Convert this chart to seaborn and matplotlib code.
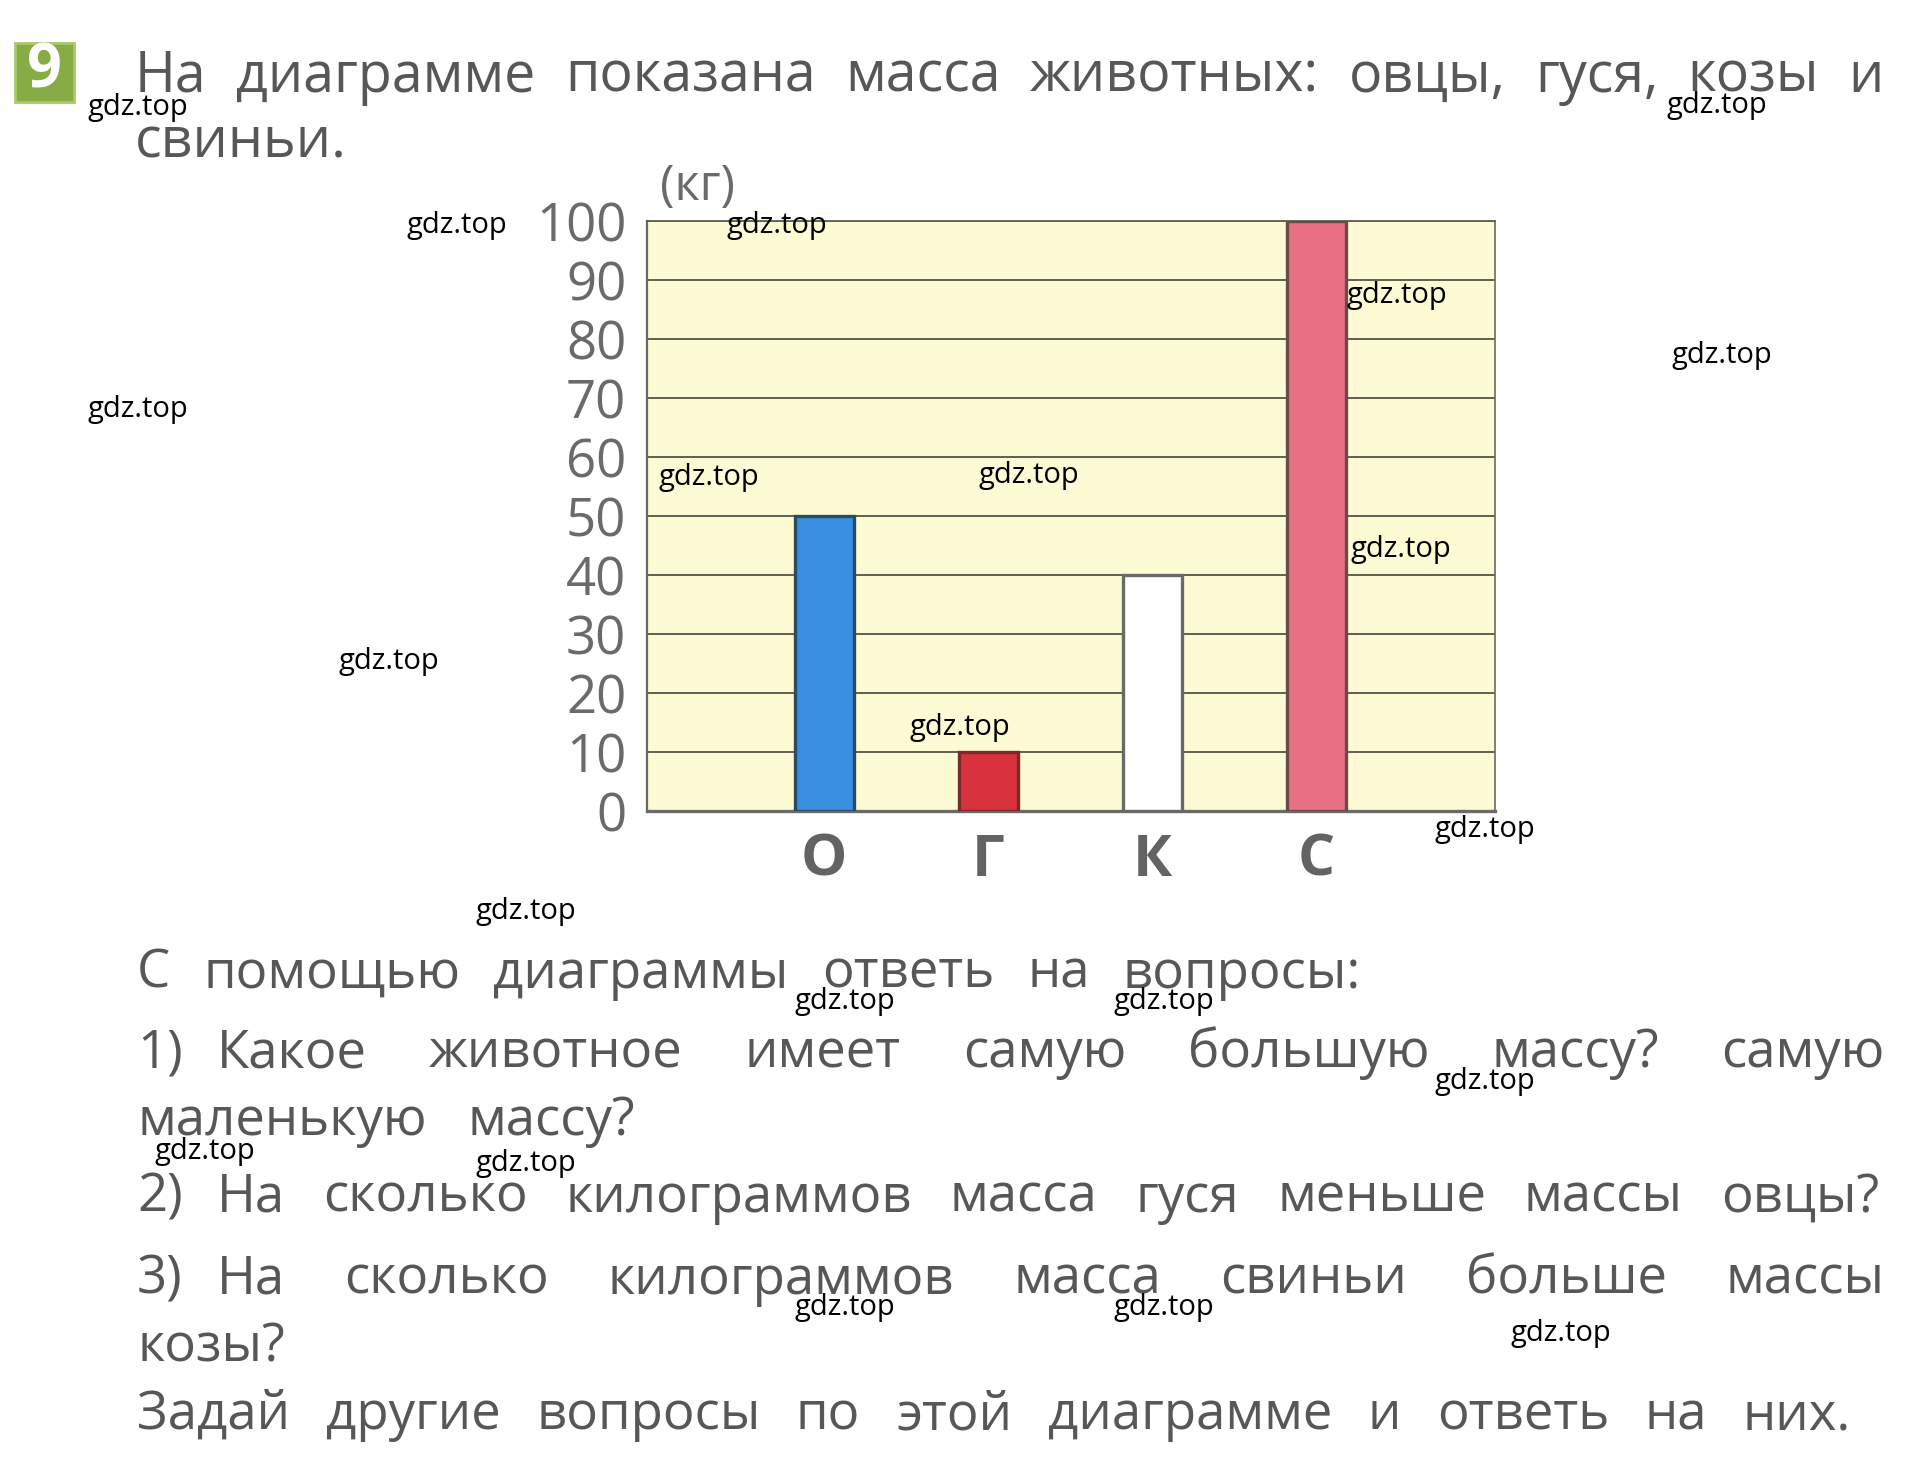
import matplotlib
matplotlib.use("Agg")
import matplotlib.pyplot as plt
from matplotlib import font_manager
from matplotlib.patches import Rectangle
from matplotlib.transforms import IdentityTransform
import seaborn as sns
import pandas as pd

# ---------------- data ----------------
categories = ["О", "Г", "К", "С"]
masses = [50, 10, 40, 100]
bar_colors = ["#3a8fe0", "#d8323c", "#ffffff", "#e96f82"]
bar_edges = ["#2c4a62", "#7a2a2a", "#6a6a6a", "#6b4a4a"]
y_ticks = [0, 10, 20, 30, 40, 50, 60, 70, 80, 90, 100]
y_unit = "(кг)"

title_lines = ["На диаграмме показана масса животных: овцы, гуся, козы и",
               "свиньи."]
body_lines = ["С помощью диаграммы ответь на вопросы:",
              "1) Какое животное имеет самую большую массу? самую",
              "маленькую массу?",
              "2) На сколько килограммов масса гуся меньше массы овцы?",
              "3) На сколько килограммов масса свиньи больше массы",
              "козы?",
              "Задай другие вопросы по этой диаграмме и ответь на них."]
watermark = "gdz.top"

# ---------------- style ----------------
sns.set_style("white")
names = {f.name for f in font_manager.fontManager.ttflist}
TEXT_FONT = "Open Sans" if "Open Sans" in names else "DejaVu Sans"
NUM_FONT = "Liberation Sans Narrow" if "Liberation Sans Narrow" in names else TEXT_FONT
plt.rcParams["font.family"] = [TEXT_FONT, "DejaVu Sans"]

W, H = 1926, 1472
fig = plt.figure(figsize=(W / 100, H / 100), dpi=100)
fig.patch.set_facecolor("white")

ax_l, ax_r, ax_t, ax_b = 647, 1495, 221, 811
ax = fig.add_axes([ax_l / W, 1 - ax_b / H, (ax_r - ax_l) / W, (ax_b - ax_t) / H])

df = pd.DataFrame({"animal": categories, "mass": masses})
sns.barplot(data=df, x="animal", y="mass", hue="animal", palette=bar_colors,
            saturation=1, width=0.36, legend=False, ax=ax, zorder=3)
for p, ec in zip(ax.patches, bar_edges):
    p.set_edgecolor(ec)
    p.set_linewidth(2.4)

ax.set_facecolor("#fcfbd3")
ax.set_xlim(-1.08, 4.09)
ax.set_ylim(0, 100)
ax.set_yticks(y_ticks)
ax.set_yticklabels([str(v) for v in y_ticks], fontsize=38, color="#6a6a6a",
                   family=NUM_FONT)
ax.set_xticks(range(len(categories)))
ax.set_xticklabels(categories, fontsize=42, color="#636363", fontweight="bold",
                   family=TEXT_FONT)
ax.tick_params(axis="y", length=0, pad=15)
ax.tick_params(axis="x", length=0, pad=15)
ax.set_xlabel("")
ax.set_ylabel("")
ax.yaxis.grid(True, color="#5f6050", linewidth=1.4, zorder=1)
ax.xaxis.grid(False)
ax.set_axisbelow(True)
for side, lw, col in [("left", 1.6, "#6a6a60"), ("right", 1.2, "#6a6a60"),
                      ("top", 1.3, "#5f6050"), ("bottom", 2.4, "#6a6a6a")]:
    ax.spines[side].set_visible(True)
    ax.spines[side].set_linewidth(lw)
    ax.spines[side].set_color(col)

# unit label
px = IdentityTransform()
fig.text(697, H - 200, y_unit, transform=px, ha="center", va="baseline",
         fontsize=35, color="#6a6a6a", family=NUM_FONT)

# ---------------- texts ----------------
renderer = fig.canvas.get_renderer()
TEXT_COL = "#575757"
NUM_GAP = 34  # fixed space after an item number like "1)"


def justify(line, x0, x1, ybase, size):
    words = line.split(" ")
    arts = [fig.text(0, 0, w, transform=px, ha="left", va="baseline",
                     fontsize=size, color=TEXT_COL) for w in words]
    widths = [a.get_window_extent(renderer).width for a in arts]
    fixed = [i for i, w in enumerate(words[:-1]) if w.endswith(")")]
    n_flex = max(len(words) - 1 - len(fixed), 1)
    gap = (x1 - x0 - sum(widths) - NUM_GAP * len(fixed)) / n_flex
    x = x0
    for i, (a, w) in enumerate(zip(arts, widths)):
        a.set_position((x, H - ybase))
        x += w + (NUM_GAP if i in fixed else gap)


justify(title_lines[0], 135, 1884, 92, 40)
justify(title_lines[1], 135, 318, 158, 40)

body_layout = [(137, 1361, 988), (137, 1885, 1067), (137, 635, 1135),
               (137, 1879, 1212), (137, 1885, 1294), (137, 289, 1362),
               (137, 1851, 1429)]
for line, (x0, x1, yb) in zip(body_lines, body_layout):
    justify(line, x0, x1, yb, 38)

# task number badge
fig.patches.append(Rectangle((15, H - 102), 59, 59, transform=px,
                             facecolor="#86ad45", edgecolor="#a9c96a",
                             linewidth=2, figure=fig))
fig.text(44.5, H - 72, "9", transform=px, ha="center", va="center",
         fontsize=44, fontweight="bold", color="white")

# watermarks
wm_pos = [(138, 108), (1717, 106), (457, 225), (777, 226), (1397, 296),
          (1722, 356), (138, 409), (709, 478), (1029, 476), (1401, 549),
          (389, 661), (960, 728), (1485, 829), (526, 912), (845, 1001),
          (1164, 1001), (1485, 1081), (205, 1152), (526, 1164), (845, 1308),
          (1164, 1308), (1561, 1333)]
for (x, y) in wm_pos:
    fig.text(x, H - y, watermark, transform=px, ha="center", va="center",
             fontsize=21, color="black", zorder=10)

fig.savefig("out.png", dpi=100)
